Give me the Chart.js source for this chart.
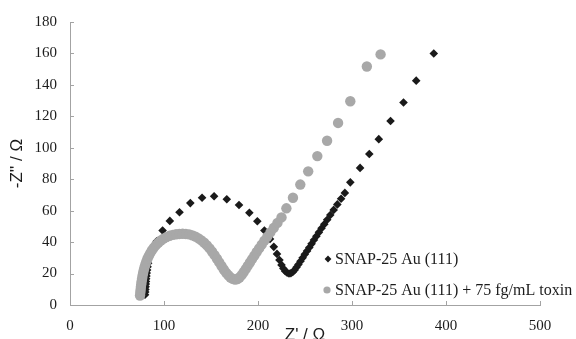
<!DOCTYPE html>
<html><head><meta charset="utf-8">
<script src="https://cdn.jsdelivr.net/npm/chart.js@4/dist/chart.umd.min.js"></script>
<style>
html,body{margin:0;padding:0;overflow:hidden;background:#fff;width:576px;height:339px}
#wrap{position:relative;width:576px;height:348px}
canvas{display:block}
</style></head>
<body><div id="wrap"><canvas id="c" width="576" height="348"></canvas></div>
<script>
// ---- data ----
const seriesNames = ['SNAP-25 Au (111)', 'SNAP-25 Au (111) + 75 fg/mL toxin'];
const xTickValues = [0, 100, 200, 300, 400, 500];
const yTickValues = [0, 20, 40, 60, 80, 100, 120, 140, 160, 180];

// SNAP-25 Au (111): Z' (ohm) and -Z'' (ohm)
const snapZre = [79.8,80.0,80.2,80.4,80.6,80.8,81.0,81.3,81.6,82.0,82.5,83.1,84.0,87.3,92.2,98.5,106.2,116.5,128.0,140.5,153.3,166.8,179.8,190.8,199.3,206.8,212.8,216.8,220.2,222.8,225.0,227.0,229.0,231.0,233.0,235.0,237.0,239.0,241.0,243.0,245.2,247.5,249.8,252.2,254.6,257.0,259.5,262.1,264.8,267.6,270.5,273.6,276.9,280.5,284.4,288.4,292.4,298.2,308.6,318.4,328.5,341.0,354.8,368.3,387.0];
const snapZim = [6.5,8.2,9.9,11.6,13.3,15.0,16.7,18.5,20.3,22.2,24.3,26.6,30.0,34.8,40.5,47.4,53.5,59.0,64.8,68.2,69.2,67.3,63.6,58.7,53.3,47.4,42.0,37.0,32.5,28.6,25.5,23.2,21.5,20.5,20.0,20.2,21.0,22.3,24.0,25.8,27.8,30.0,32.2,34.4,36.6,38.9,41.3,43.7,46.2,48.8,51.4,54.2,57.2,60.5,64.0,67.6,71.3,78.0,87.2,96.0,105.5,117.0,128.8,142.7,160.0];

// SNAP-25 Au (111) + 75 fg/mL toxin
const toxinZre = [74.5,74.8,75.1,75.4,75.8,76.2,76.7,77.2,77.8,78.5,79.3,80.2,81.2,82.4,83.8,85.4,87.2,89.2,91.4,93.9,96.6,99.5,102.6,105.9,109.3,112.8,116.3,119.8,123.3,126.8,130.2,133.5,136.7,139.8,142.8,145.7,148.5,151.2,153.8,156.3,158.8,161.2,163.6,166.0,168.4,170.8,173.2,175.6,178.0,180.3,182.5,184.7,186.9,189.1,191.4,193.7,196.1,198.6,201.2,203.9,206.8,209.9,213.2,216.8,220.7,225.0,230.2,237.2,245.0,253.4,263.1,273.5,285.2,298.2,315.8,330.4];
const toxinZim = [6.0,7.8,9.6,11.4,13.2,15.0,16.8,18.6,20.4,22.2,24.0,25.8,27.6,29.4,31.2,33.0,34.8,36.5,38.1,39.6,41.0,42.2,43.2,44.0,44.6,45.0,45.2,45.3,45.2,44.9,44.3,43.5,42.4,41.1,39.6,37.9,36.0,33.9,31.7,29.4,27.1,24.8,22.6,20.6,18.9,17.5,16.6,16.2,16.5,17.5,19.0,20.8,22.8,24.9,27.0,29.2,31.4,33.7,36.0,38.4,40.9,43.5,46.2,49.1,52.2,55.7,61.5,68.2,76.6,85.0,94.7,104.5,115.8,129.6,151.7,159.4];

// ---- styling ----
const AXIS = '#a3a3a3';
const TEXT = '#1c1c1c';
const BLACK = '#1a1a1a';
const GREY = '#a8a8a8';
const SERIF = "'Liberation Serif', 'Times New Roman', serif";
const SANS = "'Liberation Sans', Arial, sans-serif";

const toPoints = (xs, ys) => xs.map((x, i) => ({x, y: ys[i]}));

const innerTicks = {
  id: 'innerTicks',
  beforeDatasetsDraw(chart) {
    const {ctx, chartArea, scales: {x, y}} = chart;
    ctx.save();
    ctx.strokeStyle = AXIS;
    ctx.lineWidth = 1;
    ctx.beginPath();
    xTickValues.forEach(v => {
      if (v === 0) return;
      const px = Math.round(x.getPixelForValue(v)) + 0.5;
      ctx.moveTo(px, chartArea.bottom);
      ctx.lineTo(px, chartArea.bottom - 4);
    });
    yTickValues.forEach(v => {
      if (v === 0) return;
      const py = Math.round(y.getPixelForValue(v)) + 0.5;
      ctx.moveTo(chartArea.left, py);
      ctx.lineTo(chartArea.left + 4, py);
    });
    ctx.stroke();
    ctx.restore();
  }
};

const insideLegend = {
  id: 'insideLegend',
  afterDraw(chart) {
    const {ctx} = chart;
    const entries = [
      {text: seriesNames[0], style: 'rectRot', radius: 3.4, color: BLACK, mx: 328, y: 259},
      {text: seriesNames[1], style: 'circle', radius: 3.6, color: GREY, mx: 327, y: 290}
    ];
    ctx.save();
    entries.forEach(e => {
      ctx.fillStyle = e.color;
      ctx.strokeStyle = e.color;
      Chart.helpers.drawPoint(ctx, {pointStyle: e.style, radius: e.radius, rotation: 0, borderWidth: 0}, e.mx, e.y);
      ctx.fillStyle = TEXT;
      ctx.font = "16px " + SERIF;
      ctx.textBaseline = 'middle';
      ctx.textAlign = 'left';
      ctx.fillText(e.text, 335, e.y + 0.5);
    });
    ctx.restore();
  }
};

new Chart(document.getElementById('c'), {
  type: 'scatter',
  data: {
    datasets: [
      {label: seriesNames[1], data: toPoints(toxinZre, toxinZim), pointStyle: 'circle', pointRadius: 5.2,
       backgroundColor: GREY, borderColor: GREY, borderWidth: 0, showLine: false},
      {label: seriesNames[0], data: toPoints(snapZre, snapZim), pointStyle: 'rectRot', pointRadius: 4.3,
       backgroundColor: BLACK, borderColor: BLACK, borderWidth: 0, showLine: false}
    ]
  },
  options: {
    responsive: false,
    animation: false,
    devicePixelRatio: 1,
    layout: {padding: {top: 19, right: 36, left: 0, bottom: 0}},
    plugins: {legend: {display: false}, tooltip: {enabled: false}},
    scales: {
      x: {
        type: 'linear', min: 0, max: 500,
        afterBuildTicks: s => { s.ticks = xTickValues.map(v => ({value: v})); },
        afterFit: s => { s.height = 43; },
        grid: {display: false, drawTicks: false},
        border: {display: true, color: AXIS, width: 1},
        ticks: {font: {family: SERIF, size: 15}, color: TEXT, padding: 12, maxRotation: 0, autoSkip: false},
        title: {display: true, text: "Z' / Ω", font: {family: SANS, size: 17}, color: TEXT, padding: {top: 0, bottom: 2}}
      },
      y: {
        type: 'linear', min: 0, max: 180,
        afterBuildTicks: s => { s.ticks = yTickValues.map(v => ({value: v})); },
        afterFit: s => { s.width = 70; },
        grid: {display: false, drawTicks: false},
        border: {display: true, color: AXIS, width: 1},
        ticks: {font: {family: SERIF, size: 15}, color: TEXT, padding: 13, autoSkip: false},
        title: {display: true, text: "-Z'' / Ω", font: {family: SANS, size: 17}, color: TEXT, padding: {top: 7, bottom: 0}}
      }
    }
  },
  plugins: [innerTicks, insideLegend]
});
</script>
</body></html>
